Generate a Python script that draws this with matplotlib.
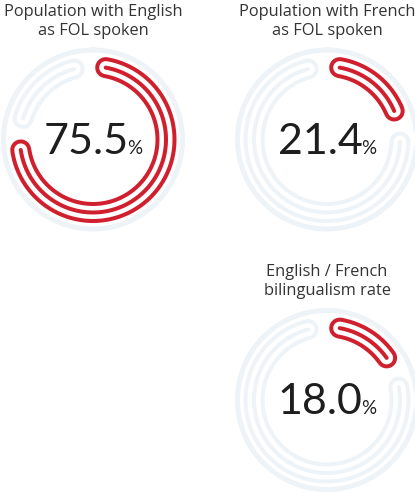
import numpy as np
import matplotlib
matplotlib.use("Agg")
import matplotlib.pyplot as plt

titles = ["Population with English\nas FOL spoken",
          "Population with French\nas FOL spoken",
          "English / French\nbilingualism rate"]
values = [75.5, 21.4, 18.0]

# layout in pixels (x, y from top)
W, H = 415, 493
centers = [(93, 139.5), (327, 139.5), (327, 400)]
title_y = [4, 4, 264]
RED = "#d0202e"
GREY = "#eef3f7"
R_ARC = 73
R_RING = 89.5

plt.rcParams['font.family'] = ['Open Sans', 'DejaVu Sans']
fig = plt.figure(figsize=(W / 100, H / 100), dpi=100)
px = 72 / 100  # points per pixel


def striped_arc(ax, t0, t1, color):
    th = np.radians(np.linspace(t0, t1, 300))
    r = np.full_like(th, R_ARC)
    ax.plot(th, r, color=color, lw=21 * px, solid_capstyle='round')
    ax.plot(th, r, color='white', lw=13 * px, solid_capstyle='round')
    ax.plot(th, r, color=color, lw=4 * px, solid_capstyle='round')


renderer = fig.canvas.get_renderer()

for title, val, (cx, cy), ty in zip(titles, values, centers, title_y):
    ax = fig.add_axes([(cx - 100) / W, (H - cy - 100) / H, 200 / W, 200 / H],
                      projection='polar')
    ax.set_theta_zero_location('N')
    ax.set_theta_direction(-1)
    ax.set_rlim(0, 100)
    ax.axis('off')

    ring = np.radians(np.linspace(0, 360, 400))
    ax.plot(ring, np.full_like(ring, R_RING), color=GREY, lw=5 * px)

    end = 360 * val / 100
    striped_arc(ax, end + 15, 360 - 15, GREY)
    striped_arc(ax, 10, end - 10, RED)

    fig.text(cx / W, 1 - ty / H, title, ha='center', va='top',
             fontsize=11.8, color='#333333', linespacing=1.22)

    # big number + small percent sign, centred as one group
    base = H - (cy + 14)
    num = fig.text(0, base / H, f"{val:.1f}", ha='left', va='baseline',
                   fontsize=31, family='Lato', color='#1e1e1e')
    pct = fig.text(0, base / H, "%", ha='left', va='baseline',
                   fontsize=13.5, family='Lato', color='#1e1e1e')
    wn = num.get_window_extent(renderer).width
    wp = pct.get_window_extent(renderer).width
    x0 = cx - (wn + wp - 1) / 2
    num.set_x(x0 / W)
    pct.set_x((x0 + wn - 1) / W)

fig.savefig("out.png", dpi=100)
